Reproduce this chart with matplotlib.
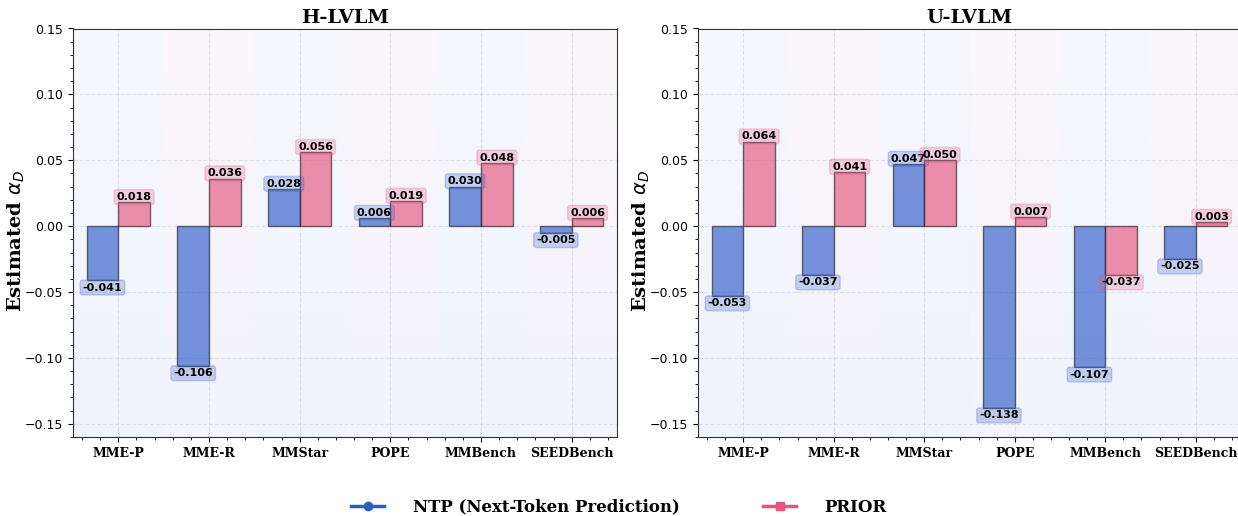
import numpy as np
import matplotlib
matplotlib.use("Agg")
import matplotlib.pyplot as plt
from matplotlib.lines import Line2D
from matplotlib.colors import LinearSegmentedColormap

benchmarks = ["MME-P", "MME-R", "MMStar", "POPE", "MMBench", "SEEDBench"]
h_ntp = [-0.041, -0.106, 0.028, 0.006, 0.030, -0.005]
h_prior = [0.018, 0.036, 0.056, 0.019, 0.048, 0.006]
u_ntp = [-0.053, -0.037, 0.047, -0.138, -0.107, -0.025]
u_prior = [0.064, 0.041, 0.050, 0.007, -0.037, 0.003]

blue = "#2f5bc9"
pink = "#e5557f"
width = 0.35

fig = plt.figure(figsize=(12.38, 5.16), dpi=100)
axL = fig.add_axes([73 / 1238, 1 - 437 / 516, 544 / 1238, 408.5 / 516])
axR = fig.add_axes([698 / 1238, 1 - 437 / 516, 543 / 1238, 408.5 / 516])

grad = LinearSegmentedColormap.from_list("bg", ["#f2f7fd", "#fcfbfe"])


def label(ax, x, v, color):
    va = "bottom" if v >= 0 else "top"
    off = 0.0003 if v >= 0 else -0.0018
    ax.text(x, v + off, f"{v:.3f}", ha="center", va=va, fontsize=8, fontweight="bold",
            color="black", zorder=6,
            bbox=dict(boxstyle="round,pad=0.22", facecolor=color, edgecolor=color,
                      alpha=0.25, linewidth=1))


def draw(ax, title, ntp, prior):
    x = np.arange(len(benchmarks))
    ax.set_xlim(-0.5, len(benchmarks) - 0.5)
    ax.set_ylim(-0.16, 0.15)
    ax.imshow(np.linspace(0, 1, 100).reshape(-1, 1), cmap=grad, aspect="auto",
              extent=[-0.5, len(benchmarks) - 0.5, -0.16, 0.15], origin="lower", zorder=0)
    for i in x:
        c = "#dfe8f8" if i % 2 == 0 else "#f9e2ee"
        ax.axvspan(i - 0.5, i + 0.5, color=c, alpha=0.15, lw=0, zorder=0.5)
    ax.bar(x - width / 2, ntp, width, color=blue, alpha=0.65, edgecolor="#222222",
           linewidth=1, zorder=3)
    ax.bar(x + width / 2, prior, width, color=pink, alpha=0.65, edgecolor="#222222",
           linewidth=1, zorder=3)
    for i in x:
        label(ax, i - width / 2, ntp[i], blue)
        label(ax, i + width / 2, prior[i], pink)
    ax.set_xticks(x)
    ax.set_xticklabels(benchmarks, fontfamily="DejaVu Serif", fontweight="bold", fontsize=9)
    ax.set_yticks([-0.15, -0.10, -0.05, 0.00, 0.05, 0.10, 0.15])
    ax.set_yticklabels(["\u22120.15", "\u22120.10", "\u22120.05", "0.00", "0.05", "0.10", "0.15"])
    ax.tick_params(axis="y", labelsize=9)
    ax.minorticks_on()
    ax.grid(True, which="major", linestyle="--", color="#cccccc", alpha=0.5, linewidth=0.8, zorder=1)
    ax.set_axisbelow(True)
    ax.set_title(title, fontfamily="DejaVu Serif", fontweight="bold", fontsize=14, pad=4)
    ax.set_ylabel(r"Estimated $\alpha_D$", fontfamily="DejaVu Serif", fontweight="bold",
                  fontsize=14)
    ax.yaxis.set_label_coords(-0.085, 0.48)
    for s in ax.spines.values():
        s.set_color("#333333")


draw(axL, "H-LVLM", h_ntp, h_prior)
draw(axR, "U-LVLM", u_ntp, u_prior)

handles = [
    Line2D([], [], color=blue, marker="o", linestyle="-", linewidth=2.5, markersize=6),
    Line2D([], [], color=pink, marker="s", linestyle="-", linewidth=2.5, markersize=6),
]
fig.legend(handles, ["NTP (Next-Token Prediction)", "PRIOR"], loc="center",
           bbox_to_anchor=(0.5, 0.017), ncol=2, frameon=False, handlelength=2.0,
           handletextpad=1.7, columnspacing=5,
           prop=dict(family="DejaVu Serif", weight="bold", size=12))

fig.savefig("out.png", dpi=100)
